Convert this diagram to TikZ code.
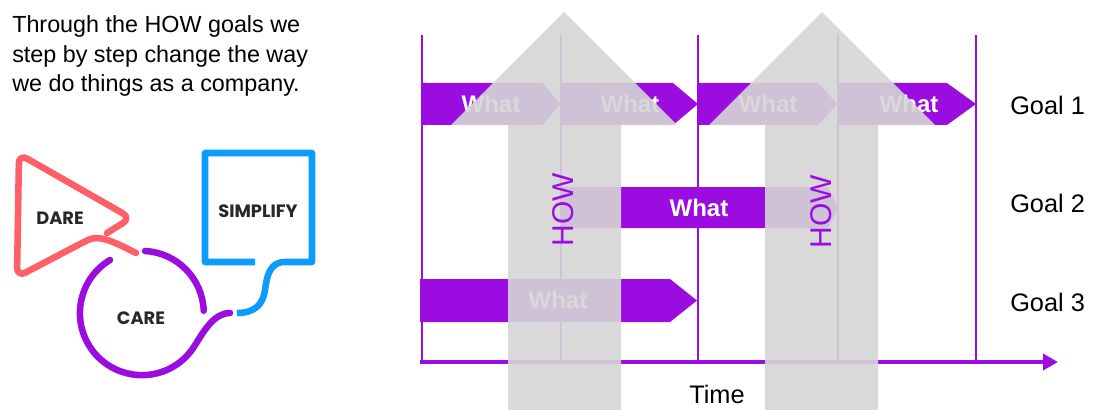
\documentclass[tikz,border=0pt]{standalone}
\usepackage{fontspec}
\setmainfont{Liberation Sans}
\newfontfamily\logofont{Poppins}
\usetikzlibrary{arrows.meta}
\definecolor{vio}{RGB}{155,12,224}
\definecolor{coral}{RGB}{255,96,104}
\definecolor{skyb}{RGB}{12,156,255}
\definecolor{howgray}{RGB}{213,213,213}
\definecolor{ink}{RGB}{40,40,40}
\tikzset{
  body/.style={inner sep=0pt,anchor=base west,text=black,font=\fontsize{17.5pt}{20pt}\selectfont},
  goal/.style={inner sep=0pt,anchor=west,text=black,font=\fontsize{19pt}{22pt}\selectfont},
  what/.style={inner sep=0pt,text=white,font=\fontsize{18pt}{21pt}\selectfont\bfseries},
  howtxt/.style={inner sep=0pt,rotate=90,text=vio,font=\fontsize{22.5pt}{25pt}\selectfont},
  bar/.style={fill=vio,draw=none},
  grid/.style={draw=vio,line width=1.1pt},
  howarrow/.style={fill=howgray,fill opacity=0.9,draw=none},
  logolbl/.style={inner sep=0pt,text=ink,font=\logofont\fontsize{13.4pt}{15pt}\selectfont\bfseries},
  logoline/.style={line width=4.9pt,line cap=round,line join=round},
}
\begin{document}
\begin{tikzpicture}[x=0.75pt,y=-0.75pt]
\useasboundingbox (0,0) rectangle (1093,410);
% intro text
\node[body] (t1) at (12,33) {Through the HOW goals we};
\node[body] (t2) at (12,63) {step by step change the way};
\node[body] (t3) at (12,92) {we do things as a company.};
% logo
\draw[logoline,draw=coral,rounded corners=7pt] (107,233) -- (131,218) -- (19,154) -- (17,277) -- (80,244) .. controls (100,234) and (118,244) .. (136,253);
\draw[logoline,draw=vio] (145,251) arc[start angle=-87,end angle=-2,radius=62];
\draw[logoline,draw=vio] (110,260) arc[start angle=239,end angle=30,radius=62] .. controls (204,331) and (214,313) .. (230,313);
\draw[logoline,draw=skyb,line cap=butt] (255,262) -- (205,262) -- (205,153) -- (312,153) -- (312,262) -- (285,262) .. controls (270,262) and (267,275) .. (265,290) .. controls (263,305) and (254,313) .. (237,313);
\node[logolbl] (dare) at (60,218) {DARE};
\node[logolbl] (simp) at (258,211) {SIMPLIFY};
\node[logolbl] (care) at (141,318) {CARE};
% vertical grid lines
\foreach \x/\n in {422/a,561/b,698/c,838/d,976/e}{
  \coordinate (top\n) at (\x,35);
  \coordinate (bot\n) at (\x,362);
  \draw[grid] (top\n) -- (bot\n);
}
% goal 1 bars
\fill[bar] (422,83) -- (543,83) -- (560,104) -- (543,125) -- (422,125) -- cycle;
\fill[bar] (561,83) -- (673,83) -- (698,104) -- (673,125) -- (561,125) -- cycle;
\fill[bar] (699,83) -- (818,83) -- (837,104) -- (818,125) -- (699,125) -- cycle;
\fill[bar] (839,83) -- (947,83) -- (976,104) -- (947,125) -- (839,125) -- cycle;
% goal 2 bar
\fill[bar] (561,187) -- (828,187) -- (838,207.5) -- (828,228) -- (561,228) -- cycle;
% goal 3 bar
\fill[bar] (420,279) -- (670,279) -- (697,300.5) -- (670,322) -- (420,322) -- cycle;
% what labels
\node[what] (w1) at (491,104) {What};
\node[what] (w2) at (630,104) {What};
\node[what] (w3) at (768,104) {What};
\node[what] (w4) at (909,104) {What};
\node[what] (w5) at (699,208) {What};
\node[what] (w6) at (558,300) {What};
% time axis
\coordinate (ax0) at (420,362);
\coordinate (ax1) at (1058,362);
\draw[vio,line width=3pt,-{Triangle[length=11.25pt,width=12pt]}] (ax0) -- (ax1);
% HOW arrows
\fill[howarrow] (508,410) -- (508,125) -- (451,125) -- (564,12) -- (677,125) -- (621,125) -- (621,410) -- cycle;
\fill[howarrow] (765,410) -- (765,125) -- (709,125) -- (822,12) -- (935,125) -- (878,125) -- (878,410) -- cycle;
\node[howtxt] (how1) at (563,210) {HOW};
\node[howtxt] (how2) at (821,212) {HOW};
% labels
\node[goal] (g1) at (1010,105) {Goal 1};
\node[goal] (g2) at (1010,203) {Goal 2};
\node[goal] (g3) at (1010,302) {Goal 3};
\node[inner sep=0pt,text=black,font=\fontsize{19pt}{22pt}\selectfont] (time) at (717,394) {Time};
\end{tikzpicture}
\end{document}
